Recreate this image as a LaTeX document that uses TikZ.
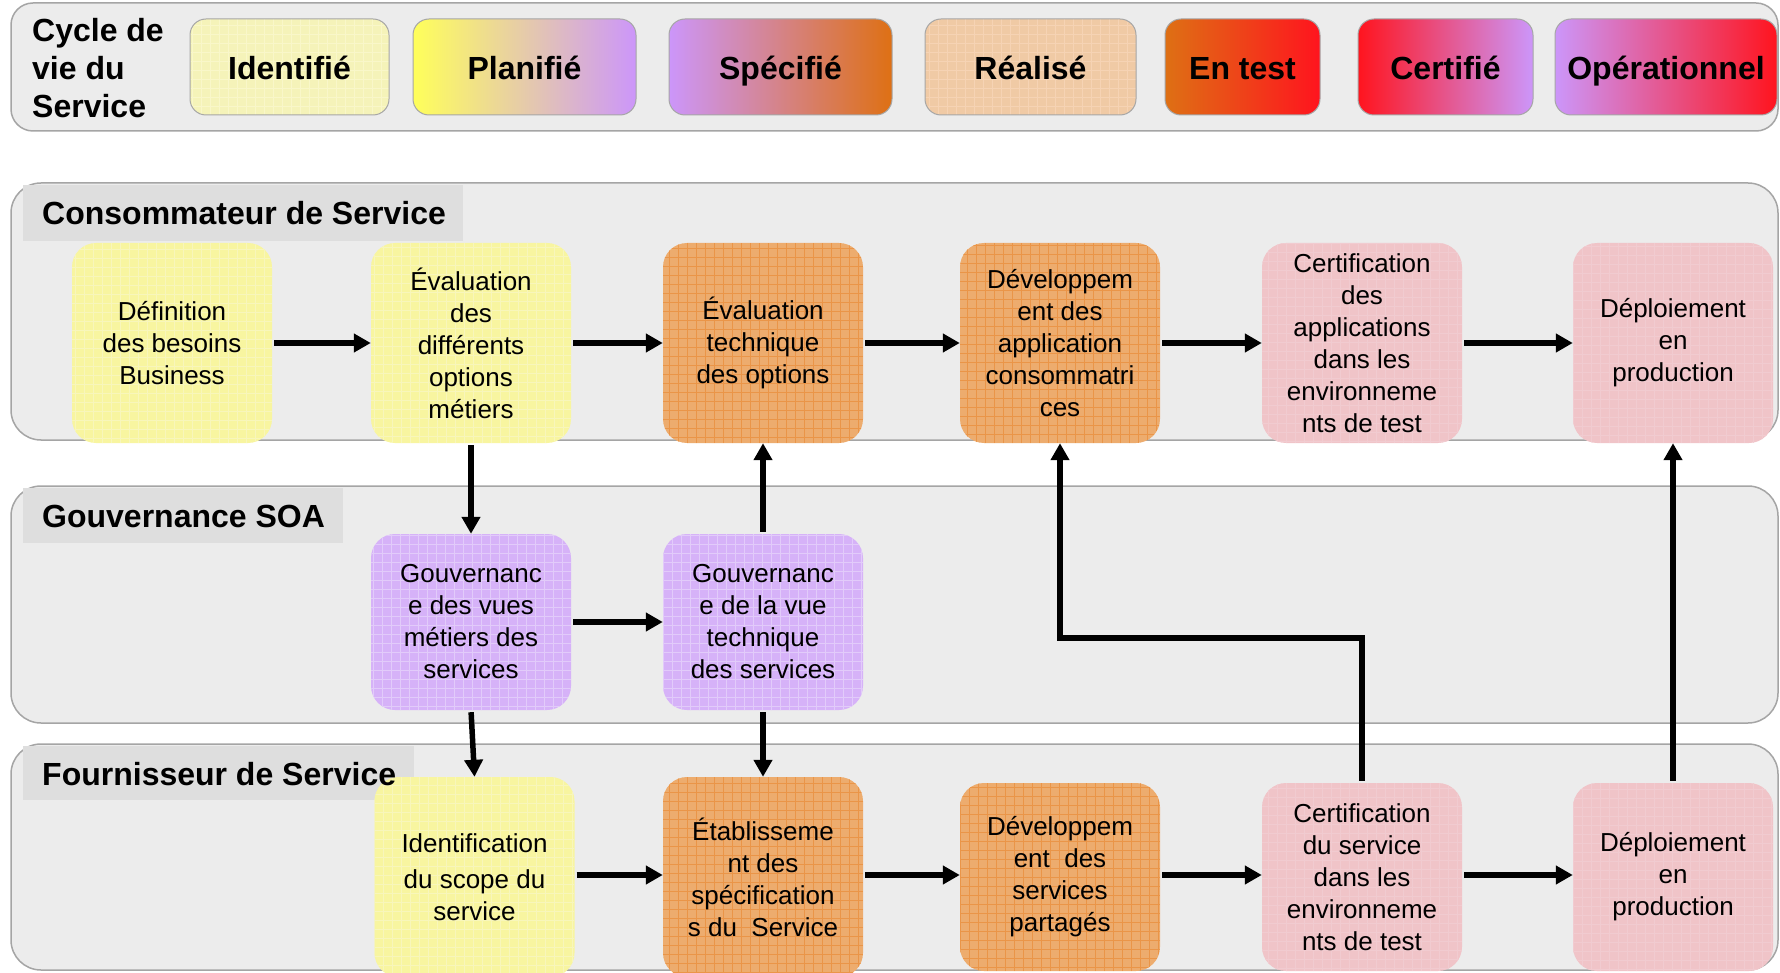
\documentclass[tikz,border=0pt]{standalone}
\usepackage{fontspec}
\setmainfont{Liberation Sans}
\usetikzlibrary{arrows.meta,calc}
\definecolor{lanefill}{RGB}{236,236,236}
\definecolor{laneedge}{RGB}{165,165,165}
\definecolor{tabfill}{RGB}{222,222,222}
\definecolor{yel}{RGB}{248,245,160}
\definecolor{yelgrid}{RGB}{240,236,120}
\definecolor{ora}{RGB}{237,172,110}
\definecolor{oragrid}{RGB}{230,130,40}
\definecolor{pnk}{RGB}{240,196,200}
\definecolor{pnkgrid}{RGB}{232,168,176}
\definecolor{pur}{RGB}{214,178,248}
\definecolor{purgrid}{RGB}{198,152,245}
\definecolor{lav}{RGB}{204,150,250}
\definecolor{lyel}{RGB}{255,255,90}
\definecolor{lora}{RGB}{222,112,20}
\definecolor{lred}{RGB}{255,20,30}
\definecolor{lpale}{RGB}{245,243,185}
\definecolor{lrea}{RGB}{240,202,165}
\begin{document}
\begin{tikzpicture}[x=1pt,y=-1pt,
  lane/.style={draw=laneedge, line width=1.5pt, fill=lanefill, rounded corners=30pt},
  tab/.style={fill=tabfill},
  lanelabel/.style={anchor=west, font=\fontsize{32}{36}\selectfont\bfseries, inner sep=0pt},
  gridfill/.style={path picture={\draw[#1, line width=0.8pt, step=9pt] (path picture bounding box.south west) grid (path picture bounding box.north east);}},
  proc/.style={rounded corners=24pt, minimum width=200pt, align=center, font=\fontsize{26}{32}\selectfont, inner sep=0pt},
  pyel/.style={proc, fill=yel, gridfill={yelgrid!50}},
  pora/.style={proc, fill=ora, gridfill={oragrid!85}},
  ppnk/.style={proc, fill=pnk, gridfill={pnkgrid!60}},
  ppur/.style={proc, fill=pur, gridfill={purgrid!50}},
  legbox/.style={draw=gray!70, line width=1pt, rounded corners=16pt, minimum height=96pt, text height=25pt, text depth=0pt, font=\fontsize{32}{38}\selectfont\bfseries, inner sep=0pt},
  arr/.style={line width=5.5pt, -{Triangle[length=17pt,width=18pt]}, shorten <=2pt}
]
\useasboundingbox (0,0) rectangle (1780,973);
\fill[white] (0,0) rectangle (1780,973);

% legend banner
\draw[lane, rounded corners=22pt] (11,3) rectangle (1778,131);
\node[anchor=west, align=left, inner sep=0pt, font=\fontsize{32}{38}\selectfont\bfseries] (cyc) at (32,68) {Cycle de\\vie du\\Service};
\node[legbox, fill=lpale, minimum width=199pt, gridfill={yelgrid!40}] (l1) at (289.5,67) {Identifié};
\node[legbox, left color=lyel, right color=lav, minimum width=223pt] (l2) at (524.5,67) {Planifié};
\node[legbox, left color=lav, right color=lora, minimum width=223pt] (l3) at (780.5,67) {Spécifié};
\node[legbox, fill=lrea, minimum width=211pt, gridfill={oragrid!35}] (l4) at (1030.5,67) {Réalisé};
\node[legbox, left color=lora, right color=lred, minimum width=155pt] (l5) at (1242.5,67) {En test};
\node[legbox, left color=lred, right color=lav, minimum width=175pt] (l6) at (1445.5,67) {Certifié};
\node[legbox, left color=lav, right color=lred, minimum width=222pt] (l7) at (1666,67) {Opérationnel};

% lanes
\draw[lane] (11,183) rectangle (1778,440);
\draw[lane] (11,486) rectangle (1778,723);
\draw[lane] (11,744) rectangle (1778,970);
\fill[tab] (23,185) rectangle (463,241);
\fill[tab] (23,488) rectangle (343,543);
\fill[tab] (23,746) rectangle (414,800);

% row 1
\node[pyel, minimum height=200pt] (def) at (172,343) {Définition\\des besoins\\Business};
\node[pyel, minimum height=200pt] (evm) at (471,343) {Évaluation\\des\\différents\\options\\métiers};
\node[pora, minimum height=200pt] (evt) at (763,343) {Évaluation\\technique\\des options};
\node[pora, minimum height=200pt] (dca) at (1060,343) {Développem\\ent des\\application\\consommatri\\ces};
\node[ppnk, minimum height=200pt] (cap) at (1362,343) {Certification\\des\\applications\\dans les\\environneme\\nts de test};
\node[ppnk, minimum height=200pt] (dp1) at (1673,343) {Déploiement\\en\\production};

% row 2
\node[ppur, minimum height=176pt] (gm) at (471,622) {Gouvernanc\\e des vues\\métiers des\\services};
\node[ppur, minimum height=176pt] (gt) at (763,622) {Gouvernanc\\e de la vue\\technique\\des services};

% row 3
\node[pyel, minimum height=200pt] (id) at (474.5,877) {Identification\\[4pt]du scope du\\service};
\node[pora, minimum height=200pt] (es) at (763,877) {Établisseme\\nt des\\spécification\\s du\ \ Service};
\node[pora, minimum height=188pt] (ds) at (1060,877) {Développem\\ent\ \ des\\services\\partagés};
\node[ppnk, minimum height=188pt] (cs) at (1362,877) {Certification\\du service\\dans les\\environneme\\nts de test};
\node[ppnk, minimum height=188pt] (dp2) at (1673,877) {Déploiement\\en\\production};

% lane labels
\node[lanelabel] (lc) at (42,213) {Consommateur de Service};
\node[lanelabel] (lg) at (42,516) {Gouvernance SOA};
\node[lanelabel] (lf) at (42,774) {Fournisseur de Service};

% arrows
\draw[arr] (def) -- (evm);
\draw[arr] (evm) -- (evt);
\draw[arr] (evt) -- (dca);
\draw[arr] (dca) -- (cap);
\draw[arr] (cap) -- (dp1);
\draw[arr] (gm) -- (gt);
\draw[arr] (id.east |- 0,875) -- (es.west |- 0,875);
\draw[arr] (es.east |- 0,875) -- (ds.west |- 0,875);
\draw[arr] (ds.east |- 0,875) -- (cs.west |- 0,875);
\draw[arr] (cs.east |- 0,875) -- (dp2.west |- 0,875);
\draw[arr] (evm.south) -- (gm.north);
\draw[arr] (gt.north) -- (evt.south);
\draw[arr] (gm.south) -- (id.north);
\draw[arr] (gt.south) -- (es.north);
\coordinate (elbow) at (1060,638);
\draw[arr] (cs.north) |- (elbow) -- (dca.south);
\draw[arr] (dp2.north) -- (dp1.south);
\end{tikzpicture}
\end{document}
